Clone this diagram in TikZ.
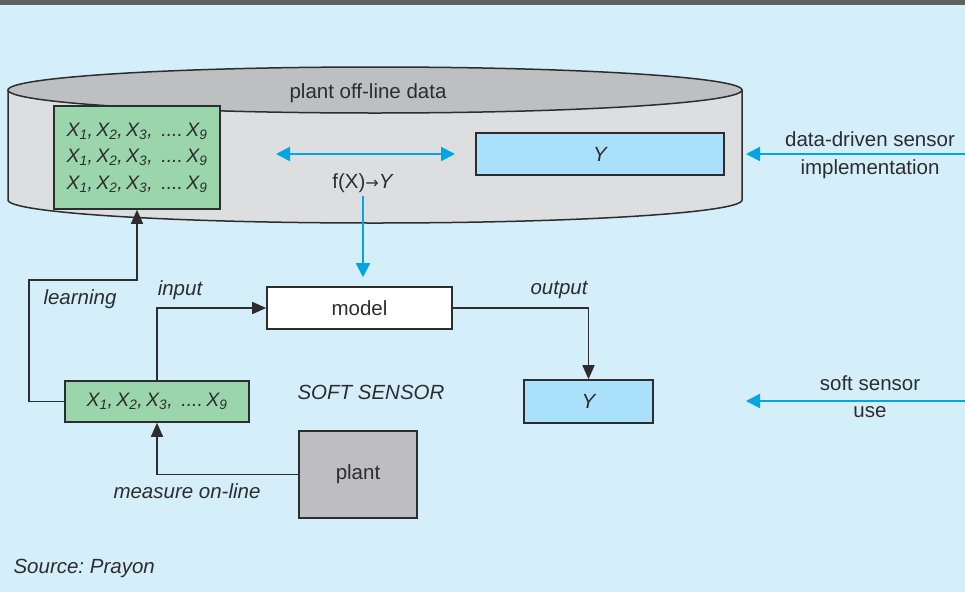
\documentclass[tikz,border=0pt]{standalone}
\usepackage{fontspec}
\setmainfont{Liberation Sans}
\newfontfamily\arrowfont{DejaVu Sans}
\usetikzlibrary{arrows.meta}
\frenchspacing

\definecolor{bgblue}{RGB}{212,238,250}
\definecolor{topbar}{RGB}{96,96,98}
\definecolor{inkgrey}{RGB}{45,45,47}
\definecolor{drumside}{RGB}{221,222,224}
\definecolor{drumtop}{RGB}{190,191,193}
\definecolor{datagreen}{RGB}{155,213,172}
\definecolor{ybluefill}{RGB}{170,224,250}
\definecolor{plantgrey}{RGB}{190,190,192}
\definecolor{flowblue}{RGB}{0,166,228}

\newcommand{\xrow}{\itshape X\textsubscript{1},\,X\textsubscript{2},\,X\textsubscript{3},\, ....\,X\textsubscript{9}}

\begin{document}
\begin{tikzpicture}[x=1pt,y=-1pt,
	every node/.style={font=\fontsize{20.5}{24}\selectfont,text=inkgrey},
	box/.style={draw=inkgrey,line width=1.6pt,inner sep=0pt},
	flow/.style={inkgrey,line width=1.6pt,-{Triangle[length=14pt,width=12pt]}},
	blueflow/.style={flowblue,line width=2pt,-{Triangle[length=14pt,width=14pt]}}]
	% background
	\useasboundingbox (0,0) rectangle (965,592);
	\fill[bgblue] (0,0) rectangle (965,592);
	\fill[topbar] (0,0) rectangle (965,5);

	% data drum
	\filldraw[fill=drumside,draw=inkgrey,line width=1.5pt] (8,90) -- (8,200)
		arc[start angle=180,end angle=360,x radius=367pt,y radius=23pt] -- (742,90);
	\filldraw[fill=drumtop,draw=inkgrey,line width=1.5pt] (375,90) ellipse[x radius=367pt,y radius=23pt];
	\node (drum) at (368,93) {plant off-line data};

	% boxes
	\node[box,fill=datagreen,minimum width=166pt,minimum height=103pt,align=center,
		font=\fontsize{19.5}{26.5}\selectfont] (bigx) at (137,157.5) {\xrow\\\xrow\\\xrow};
	\node[box,fill=ybluefill,minimum width=248pt,minimum height=42pt] (ybig) at (600,154) {\itshape Y};
	\node[box,fill=white,minimum width=185pt,minimum height=42pt] (model) at (359.5,308) {model};
	\node[box,fill=datagreen,minimum width=184pt,minimum height=41pt,font=\fontsize{19.5}{24}\selectfont] (xsmall) at (157,401.5) {\xrow};
	\node[box,fill=ybluefill,minimum width=129pt,minimum height=43pt] (ysmall) at (588.5,401.5) {\itshape Y};
	\node[box,fill=plantgrey,minimum width=118pt,minimum height=87pt] (plant) at (358,474.5) {plant};

	% labels
	\node (fx) at (363,183) {f(X){\arrowfont\fontsize{16}{24}\selectfont→}\textit{Y}};
	\node (learn) at (80,299) {\itshape learning};
	\node (inlabel) at (180,290) {\itshape input};
	\node (outlabel) at (559,290) {\itshape output};
	\node (soft) at (371,392) {\itshape SOFT SENSOR};
	\node (measure) at (187,491) {\itshape measure on-line};
	\node[align=center,font=\fontsize{20.5}{28}\selectfont] (ddlabel) at (870,155) {data-driven sensor\\implementation};
	\node[align=center,font=\fontsize{20.5}{27}\selectfont] (uselabel) at (870,397) {soft sensor\\use};
	\node[anchor=west] (source) at (10,568) {\itshape Source: Prayon};

	% blue arrows
	\coordinate (pairl) at (276,154);
	\coordinate (pairr) at (455,154);
	\coordinate (ddin) at (965,154);
	\coordinate (ddtip) at (746,154);
	\coordinate (usein) at (965,401);
	\coordinate (usetip) at (746,401);
	\draw[blueflow,{Triangle[length=14pt,width=14pt]}-{Triangle[length=14pt,width=14pt]}] (pairl) -- (pairr);
	\draw[blueflow] (ddin) -- (ddtip);
	\draw[blueflow] (usein) -- (usetip);
	\draw[blueflow,shorten >=9pt] (fx.south) -- (fx.south |- model.north);

	% black arrows
	\coordinate (lcorner) at (29,280);
	\draw[flow] (xsmall.west) -| (lcorner) -| (bigx.south);
	\draw[flow] (xsmall.north) |- (model.west);
	\draw[flow] (model.east) -| (ysmall.north);
	\draw[flow] (plant.west) -| (xsmall.south);
\end{tikzpicture}
\end{document}
